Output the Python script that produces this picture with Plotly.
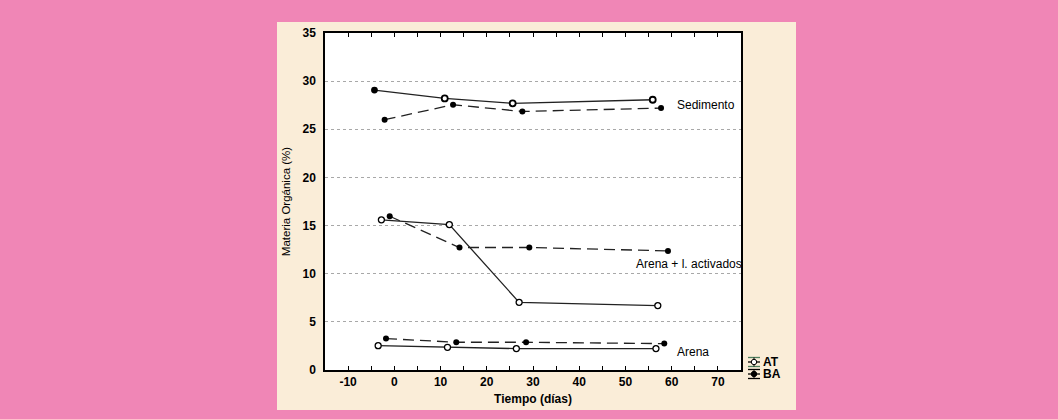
import plotly.graph_objects as go

# ---- data ----
sed_at_x = [-4.3, 10.9, 25.6, 55.9]
sed_at_y = [29.07, 28.2, 27.7, 28.07]
sed_ba_x = [-2.1, 12.7, 27.7, 57.7]
sed_ba_y = [26.0, 27.55, 26.85, 27.2]

lod_at_x = [-2.8, 11.9, 27.0, 57.0]
lod_at_y = [15.6, 15.1, 7.03, 6.69]
lod_ba_x = [-1.0, 14.1, 29.2, 59.2]
lod_ba_y = [15.97, 12.72, 12.72, 12.37]

are_at_x = [-3.5, 11.5, 26.4, 56.6]
are_at_y = [2.53, 2.36, 2.22, 2.22]
are_ba_x = [-1.8, 13.4, 28.5, 58.4]
are_ba_y = [3.26, 2.88, 2.88, 2.74]

labels = ["Sedimento", "Arena + l. activados", "Arena"]
label_x = [60.7, 51.9, 60.7]
label_y = [27.5, 11.0, 1.87]

x_ticks = [-10, 0, 10, 20, 30, 40, 50, 60, 70]
x_tick_text = ["-10", "0", "10", "20", "30", "40", "50", "60", "70"]
y_ticks = [0, 5, 10, 15, 20, 25, 30, 35]

FONT = "Liberation Sans, Arial, sans-serif"
PINK = "#F086B6"
CREAM = "#FAEDD8"

fig = go.Figure()

def at_trace(x, y, fills=None, sizes=6, lw=1.3):
    fig.add_trace(go.Scatter(
        x=x, y=y, mode="lines+markers", showlegend=False,
        line=dict(color="#222222", width=1.3),
        marker=dict(symbol="circle", size=sizes, opacity=1,
                    color=fills if fills else "white",
                    line=dict(color="black", width=lw))))

def ba_trace(x, y):
    fig.add_trace(go.Scatter(
        x=x, y=y, mode="lines+markers", showlegend=False,
        line=dict(color="#222222", width=1.3, dash="11px,6px"),
        marker=dict(symbol="circle", size=6, color="black", opacity=1,
                    line=dict(color="black", width=0))))

at_trace(sed_at_x, sed_at_y, fills=["black", "white", "white", "white"],
         sizes=[5, 6, 6, 6], lw=1.8)
ba_trace(sed_ba_x, sed_ba_y)
at_trace(lod_at_x, lod_at_y)
ba_trace(lod_ba_x, lod_ba_y)
at_trace(are_at_x, are_at_y)
ba_trace(are_ba_x, are_ba_y)

for t, x, y in zip(labels, label_x, label_y):
    fig.add_annotation(x=x, y=y, text=t, showarrow=False, xanchor="left",
                       yanchor="middle", font=dict(family=FONT, size=12, color="#000000"))

# background panels
L, R, T, B = 325, 741, 33, 370
W, H = R - L, B - T
def px(xp):
    return (xp - L) / W
def py(yp):
    return (B - yp) / H

shapes = [
    dict(type="rect", xref="paper", yref="paper", x0=px(277), x1=px(796),
         y0=py(410), y1=py(22), fillcolor=CREAM, line=dict(width=0), layer="below"),
    dict(type="rect", xref="paper", yref="paper", x0=0, x1=1, y0=0, y1=1,
         fillcolor="white", line=dict(width=0), layer="below"),
]

# manual legend (error-bar style symbols)
leg = [("AT", 362, "#4E7F5E", "white"), ("BA", 374, "black", "black")]
for name, yc, col, fill in leg:
    x0, x1 = px(748), px(760)
    for dy in (-4.5, 0, 4.5):
        shapes.append(dict(type="line", xref="paper", yref="paper", x0=x0, x1=x1,
                           y0=py(yc + dy), y1=py(yc + dy),
                           line=dict(color=col if dy != 0 else "black", width=1.3)))
    shapes.append(dict(type="line", xref="paper", yref="paper", x0=px(754), x1=px(754),
                       y0=py(yc - 4.5), y1=py(yc + 4.5), line=dict(color="black", width=1)))
    shapes.append(dict(type="circle", xref="paper", yref="paper",
                       x0=px(751.3), x1=px(756.7), y0=py(yc + 2.7), y1=py(yc - 2.7),
                       fillcolor=fill, line=dict(color="black", width=1)))
    fig.add_annotation(xref="paper", yref="paper", x=px(761), y=py(yc), text=name,
                       showarrow=False, xanchor="left", yanchor="middle",
                       font=dict(family=FONT, size=12, color="black", weight="bold"))

fig.update_layout(
    width=1058, height=419,
    paper_bgcolor=PINK, plot_bgcolor="white",
    margin=dict(l=L, r=1058 - R, t=T, b=419 - B),
    shapes=shapes,
    font=dict(family=FONT, color="black"),
)

fig.update_xaxes(
    range=[-15, 75], tickvals=x_ticks, ticktext=x_tick_text, ticks="inside", ticklen=4,
    tickcolor="black",
    showgrid=False, zeroline=False, showline=True, linecolor="black", linewidth=1.5,
    mirror="ticks",
    minor=dict(dtick=5, tick0=0, ticks="inside", ticklen=4, tickcolor="black", showgrid=False),
    tickfont=dict(family=FONT, size=12, weight="bold"),
    title=dict(text="Tiempo (días)", font=dict(family=FONT, size=12, weight="bold"), standoff=6),
)
fig.update_yaxes(
    range=[0, 35], tickvals=y_ticks, ticks="", showgrid=True, gridcolor="#a8a8a8",
    griddash="dot", gridwidth=1, zeroline=False, showline=True, linecolor="black",
    linewidth=1.5, mirror=True, ticklabelstandoff=5,
    tickfont=dict(family=FONT, size=12, weight="bold"),
    title=dict(text="Materia Orgánica (%)", font=dict(family=FONT, size=11.5), standoff=9),
)

fig.write_html("out.html", config={"displayModeBar": False},
               post_script="document.body.style.margin='0';document.body.style.overflow='hidden';")
